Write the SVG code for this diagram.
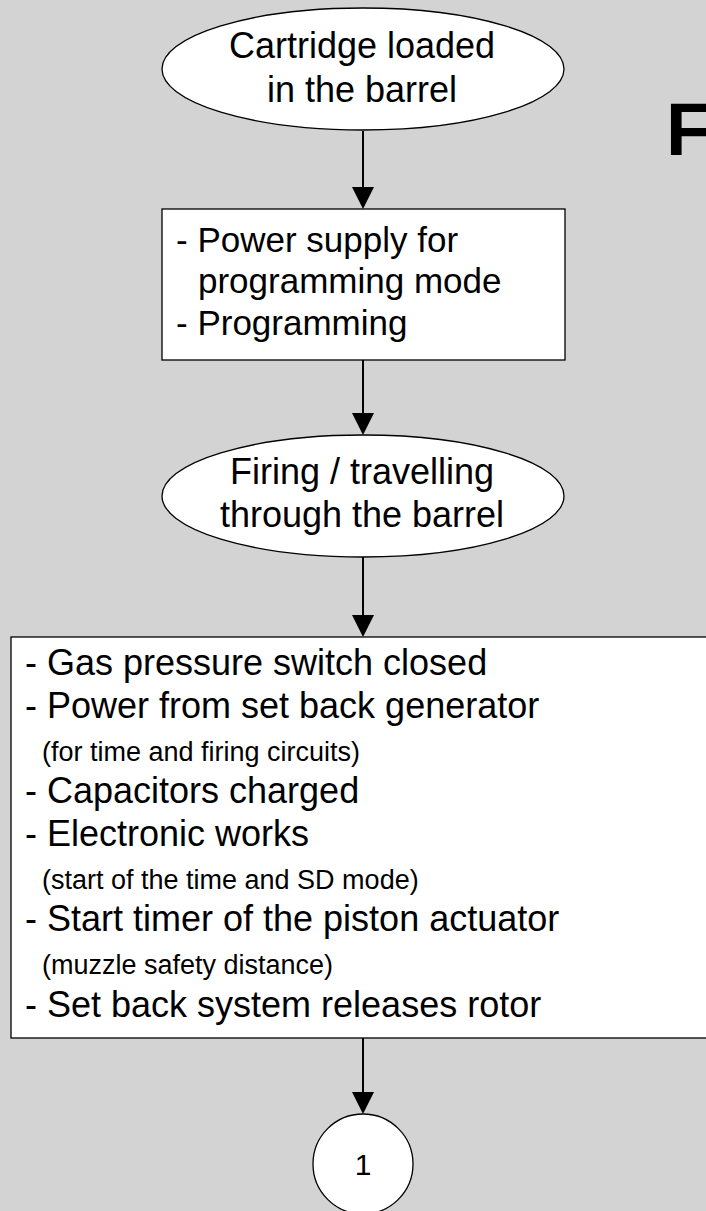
<svg xmlns="http://www.w3.org/2000/svg" width="706" height="1211" viewBox="0 0 706 1211">
  <style>
    .bg { fill: #d3d3d3; }
    .shape { fill: #ffffff; stroke: #000000; stroke-width: 1.3; }
    .txt { font-family: "Liberation Sans", Arial, sans-serif; fill: #000000; }
    .main { font-size: 36px; }
    .mid { font-size: 35px; }
    .small { font-size: 27px; }
    .num { font-size: 30px; }
    .title { font-size: 74px; font-weight: bold; }
    .conn { stroke: #000000; stroke-width: 2; fill: none; marker-end: url(#arrow); }
  </style>
  <defs>
    <marker id="arrow" markerUnits="userSpaceOnUse" markerWidth="22" markerHeight="22" refX="0" refY="11" orient="auto">
      <path d="M0,0 L22,11 L0,22 Z" fill="#000000"/>
    </marker>
  </defs>

  <rect class="bg" x="0" y="0" width="706" height="1211"/>

  <!-- heading, runs past the right edge -->
  <text class="txt title" x="666" y="155">F</text>

  <g id="connectors">
    <line class="conn" x1="363" y1="131" x2="363" y2="187"/>
    <line class="conn" x1="363" y1="360" x2="363" y2="413"/>
    <line class="conn" x1="363" y1="557" x2="363" y2="615"/>
    <line class="conn" x1="363" y1="1038" x2="363" y2="1092"/>
  </g>

  <g id="start-cartridge">
    <ellipse class="shape" cx="363" cy="69" rx="201" ry="61"/>
    <text class="txt main" x="362" y="58" text-anchor="middle">Cartridge loaded</text>
    <text class="txt main" x="362" y="102" text-anchor="middle">in the barrel</text>
  </g>

  <g id="programming">
    <rect class="shape" x="162" y="209" width="403" height="151"/>
    <text class="txt mid" x="176" y="252">- Power supply for</text>
    <text class="txt mid" x="198" y="293">programming mode</text>
    <text class="txt mid" x="176" y="335">- Programming</text>
  </g>

  <g id="firing">
    <ellipse class="shape" cx="363" cy="496" rx="201" ry="61"/>
    <text class="txt main" x="362" y="484" text-anchor="middle">Firing / travelling</text>
    <text class="txt main" x="362" y="527" text-anchor="middle">through the barrel</text>
  </g>

  <g id="in-flight-events">
    <rect class="shape" x="11" y="637" width="720" height="401"/>
    <text class="txt main" x="25" y="675">- Gas pressure switch closed</text>
    <text class="txt main" x="25" y="718">- Power from set back generator</text>
    <text class="txt small" x="42" y="761">(for time and firing circuits)</text>
    <text class="txt main" x="25" y="803">- Capacitors charged</text>
    <text class="txt main" x="25" y="846">- Electronic works</text>
    <text class="txt small" x="42" y="889">(start of the time and SD mode)</text>
    <text class="txt main" x="25" y="931">- Start timer of the piston actuator</text>
    <text class="txt small" x="42" y="974">(muzzle safety distance)</text>
    <text class="txt main" x="25" y="1017">- Set back system releases rotor</text>
  </g>

  <g id="connector-1">
    <circle class="shape" cx="363" cy="1164" r="50"/>
    <text class="txt num" x="363" y="1175" text-anchor="middle">1</text>
  </g>
</svg>
